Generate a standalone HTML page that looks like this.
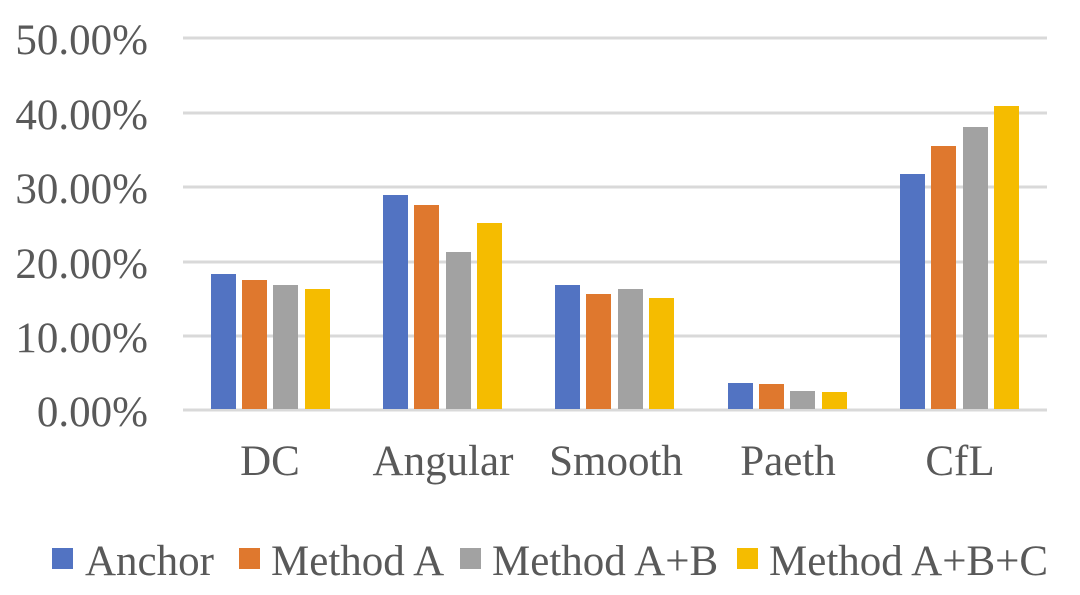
<!DOCTYPE html>
<html><head><meta charset="utf-8"><style>
html,body{margin:0;padding:0;background:#fff;}
svg{display:block;}
text{font-family:"Liberation Serif",serif;font-size:43px;fill:#595959;}
</style></head><body>
<svg width="1080" height="595" xmlns="http://www.w3.org/2000/svg">
<g stroke="#d9d9d9" stroke-width="3">
<line x1="183" x2="1047" y1="38" y2="38"/>
<line x1="183" x2="1047" y1="113" y2="113"/>
<line x1="183" x2="1047" y1="187" y2="187"/>
<line x1="183" x2="1047" y1="262" y2="262"/>
<line x1="183" x2="1047" y1="336" y2="336"/>
<line x1="183" x2="1047" y1="410" y2="410"/>
</g>
<g text-anchor="end">
<text x="148" y="54">50.00%</text>
<text x="148" y="129">40.00%</text>
<text x="148" y="203">30.00%</text>
<text x="148" y="278">20.00%</text>
<text x="148" y="352">10.00%</text>
<text x="148" y="426">0.00%</text>
</g>
<g>
<rect x="211" y="274" width="25" height="135" fill="#5273c2"/>
<rect x="242" y="280" width="25" height="129" fill="#df782e"/>
<rect x="273" y="285" width="25" height="124" fill="#a2a2a2"/>
<rect x="305" y="289" width="25" height="120" fill="#f5bc00"/>
<rect x="383" y="195" width="25" height="214" fill="#5273c2"/>
<rect x="414" y="205" width="25" height="204" fill="#df782e"/>
<rect x="446" y="252" width="25" height="157" fill="#a2a2a2"/>
<rect x="477" y="223" width="25" height="186" fill="#f5bc00"/>
<rect x="555" y="285" width="25" height="124" fill="#5273c2"/>
<rect x="586" y="294" width="25" height="115" fill="#df782e"/>
<rect x="618" y="289" width="25" height="120" fill="#a2a2a2"/>
<rect x="649" y="298" width="25" height="111" fill="#f5bc00"/>
<rect x="728" y="383" width="25" height="26" fill="#5273c2"/>
<rect x="759" y="384" width="25" height="25" fill="#df782e"/>
<rect x="790" y="391" width="25" height="18" fill="#a2a2a2"/>
<rect x="822" y="392" width="25" height="17" fill="#f5bc00"/>
<rect x="900" y="174" width="25" height="235" fill="#5273c2"/>
<rect x="931" y="146" width="25" height="263" fill="#df782e"/>
<rect x="963" y="127" width="25" height="282" fill="#a2a2a2"/>
<rect x="994" y="106" width="25" height="303" fill="#f5bc00"/>
</g>
<g text-anchor="middle">
<text x="270" y="475">DC</text>
<text x="443" y="475">Angular</text>
<text x="616" y="475">Smooth</text>
<text x="788" y="475">Paeth</text>
<text x="960" y="475">CfL</text>
</g>
<rect x="52" y="548" width="21" height="21" fill="#5273c2"/>
<text x="85" y="575">Anchor</text>
<rect x="239" y="548" width="21" height="21" fill="#df782e"/>
<text x="271" y="575">Method A</text>
<rect x="460" y="548" width="21" height="21" fill="#a2a2a2"/>
<text x="492" y="575">Method A+B</text>
<rect x="737" y="548" width="21" height="21" fill="#f5bc00"/>
<text x="769" y="575">Method A+B+C</text>
</svg>
</body></html>
